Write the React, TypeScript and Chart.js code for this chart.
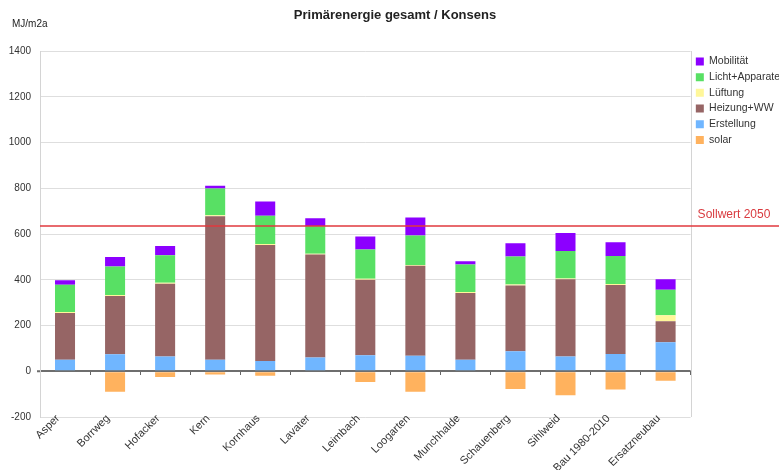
import React, { useEffect, useRef } from 'react';
import { Chart, registerables } from 'chart.js';

Chart.register(...registerables);

// Sites and building types along the x axis
const categories = [
  'Asper', 'Borrweg', 'Hofacker', 'Kern', 'Kornhaus', 'Lavater', 'Leimbach',
  'Loogarten', 'Munchhalde', 'Schauenberg', 'Sihlweid', 'Bau 1980-2010', 'Ersatzneubau',
];

// Primary energy per component, MJ/m2a
const erstellung = [50, 74, 65, 50, 45, 60, 70, 68, 50, 87, 64, 75, 127];
const heizungWW = [205, 255, 318, 628, 507, 450, 330, 393, 292, 288, 338, 302, 92];
const lueftung = [4, 4, 4, 4, 4, 4, 4, 4, 4, 4, 4, 4, 26];
const lichtApparate = [119, 125, 120, 117, 124, 120, 128, 128, 121, 123, 120, 123, 111];
const mobilitaet = [20, 41, 40, 12, 62, 35, 57, 79, 14, 58, 78, 60, 46];
const solar = [0, -90, -25, -14, -20, 0, -47, -90, 0, -78, -105, -80, -41];

// Target value drawn as a horizontal reference line
const sollwert2050 = 635;
const sollwertLabel = 'Sollwert 2050';

const yTicks = { min: -200, max: 1400, step: 200 };
const unitLabel = 'MJ/m2a';
const titleText = 'Primärenergie gesamt / Konsens';

const FONT = '"Liberation Sans", Arial, Helvetica, sans-serif';

// Rotated category labels reach slightly above the axis box, so widen its clip area upwards
const LABEL_LIFT = 8;

const decorations = {
  id: 'decorations',
  afterLayout(chart: any) {
    const xs = chart.scales.x;
    if (xs) xs.top -= LABEL_LIFT;
  },
  beforeDatasetsDraw(chart: any) {
    const { ctx, chartArea, scales } = chart;
    ctx.save();
    ctx.strokeStyle = '#d4d4d4';
    ctx.lineWidth = 1;
    ctx.beginPath();
    ctx.moveTo(Math.round(chartArea.right) + 0.5, chartArea.top);
    ctx.lineTo(Math.round(chartArea.right) + 0.5, chartArea.bottom);
    ctx.stroke();
    // short stub of the zero line left of the axis
    const y0 = scales.y.getPixelForValue(0);
    ctx.strokeStyle = '#6e6e6e';
    ctx.lineWidth = 2;
    ctx.beginPath();
    ctx.moveTo(chartArea.left - 3, y0);
    ctx.lineTo(chartArea.left, y0);
    ctx.stroke();
    ctx.restore();
  },
  afterDatasetsDraw(chart: any) {
    const { ctx, chartArea, scales } = chart;
    const y = scales.y.getPixelForValue(sollwert2050);
    ctx.save();
    ctx.strokeStyle = '#e0393e';
    ctx.lineWidth = 1.5;
    ctx.beginPath();
    ctx.moveTo(chartArea.left, y);
    ctx.lineTo(chart.width, y);
    ctx.stroke();
    ctx.fillStyle = '#d93a3f';
    ctx.font = `12px ${FONT}`;
    ctx.textAlign = 'left';
    ctx.textBaseline = 'middle';
    ctx.fillText(sollwertLabel, chartArea.right + 7, y - 11);
    ctx.restore();
  },
  afterDraw(chart: any) {
    const { ctx } = chart;
    ctx.save();
    ctx.fillStyle = '#222';
    ctx.font = `10px ${FONT}`;
    ctx.textAlign = 'left';
    ctx.textBaseline = 'middle';
    ctx.fillText(unitLabel, 12, 24);
    ctx.restore();
  },
};

export default function App() {
  const canvasRef = useRef<HTMLCanvasElement | null>(null);

  useEffect(() => {
    if (!canvasRef.current) return;
    Chart.defaults.font.family = FONT;
    const bar = (label: string, data: number[], color: string) => ({
      label,
      data,
      backgroundColor: color,
      borderWidth: 0,
      categoryPercentage: 1,
      barPercentage: 0.4,
    });
    const chart = new Chart(canvasRef.current, {
      type: 'bar',
      data: {
        labels: categories,
        datasets: [
          bar('solar', solar, '#ffb25e'),
          bar('Erstellung', erstellung, '#70b6ff'),
          bar('Heizung+WW', heizungWW, '#966565'),
          bar('Lüftung', lueftung, '#fff79a'),
          bar('Licht+Apparate', lichtApparate, '#58e064'),
          bar('Mobilität', mobilitaet, '#8c00ff'),
        ],
      },
      options: {
        responsive: false,
        animation: false,
        devicePixelRatio: 1,
        layout: { padding: 0 },
        plugins: {
          title: {
            display: true,
            text: titleText,
            color: '#222',
            font: { size: 13, weight: 'bold', family: FONT },
            padding: { top: 8, bottom: 27.4 },
          },
          legend: {
            position: 'right',
            align: 'start',
            fullSize: false,
            reverse: true,
            labels: {
              boxWidth: 8,
              boxHeight: 8,
              padding: 5.2,
              color: '#333',
              font: { size: 10.5, family: FONT },
            },
          },
          tooltip: { enabled: false },
        },
        scales: {
          x: {
            stacked: true,
            grid: { display: false, drawTicks: false },
            border: { display: false },
            ticks: {
              autoSkip: false,
              minRotation: 45,
              maxRotation: 45,
              padding: LABEL_LIFT - 5,
              labelOffset: -7,
              color: '#333',
              font: { size: 11, family: FONT },
            },
            afterFit(scale: any) {
              scale.height = 53;
            },
          },
          x0: {
            type: 'category',
            labels: categories,
            position: { y: 0 },
            offset: true,
            grid: {
              offset: true,
              drawOnChartArea: false,
              drawTicks: true,
              tickLength: 4,
              color: '#666',
            },
            border: { display: false },
            ticks: { display: false },
            afterFit(scale: any) {
              scale.height = 0;
            },
          },
          y: {
            stacked: true,
            min: yTicks.min,
            max: yTicks.max,
            ticks: {
              stepSize: yTicks.step,
              padding: 9,
              color: '#333',
              font: { size: 10, family: FONT },
              callback: (v: any) => String(v),
            },
            grid: {
              drawTicks: false,
              color: (c: any) => (c.tick && c.tick.value === 0 ? '#6e6e6e' : '#dedede'),
              lineWidth: (c: any) => (c.tick && c.tick.value === 0 ? 2 : 1),
            },
            border: { display: true, color: '#d4d4d4' },
            afterFit(scale: any) {
              scale.width = 40;
            },
          },
        },
      } as any,
      plugins: [decorations],
    });
    return () => chart.destroy();
  }, []);

  return (
    <div
      style={{
        position: 'absolute',
        left: 0,
        top: 0,
        width: 779,
        height: 470,
        overflow: 'hidden',
        background: '#fff',
      }}
    >
      <canvas ref={canvasRef} width={790} height={470} style={{ width: 790, height: 470 }} />
    </div>
  );
}
